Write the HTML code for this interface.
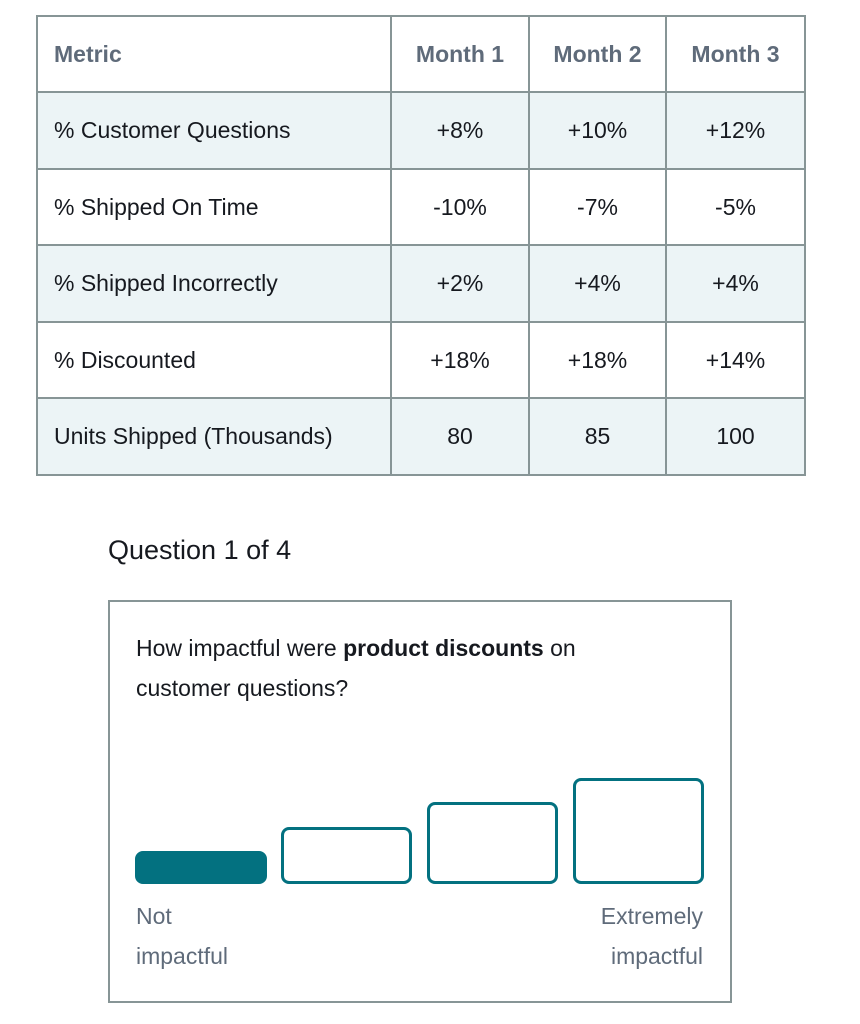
<!DOCTYPE html>
<html><head><meta charset="utf-8"><style>
*{box-sizing:border-box;margin:0;padding:0}
body{width:860px;height:1024px;background:#fff;font-family:"Liberation Sans",sans-serif;position:relative;overflow:hidden}
.c{position:absolute;border:2px solid #879596;display:flex;align-items:center;font-size:23px;color:#16191f}
.h{color:#5f6b7a;font-weight:bold}
.sh{background:#ecf4f6}
.btn{position:absolute;border:3px solid #037180;border-radius:8px;background:#fff}
.lab{position:absolute;font-size:23px;color:#5f6b7a}
</style></head><body>
<div id="tbl"></div>
<div style="position:absolute;left:108px;top:535px;font-size:27px;color:#16191f">Question 1 of 4</div>
<div style="position:absolute;left:108px;top:600px;width:624px;height:403px;border:2px solid #879596"></div>
<div style="position:absolute;left:136px;top:628px;width:520px;font-size:23px;line-height:40px;color:#16191f">How impactful were <b>product discounts</b> on customer questions?</div>
<div class="btn" style="left:135px;top:851px;width:132px;height:33px;background:#037180"></div>
<div class="btn" style="left:281px;top:827px;width:131px;height:57px"></div>
<div class="btn" style="left:427px;top:802px;width:131px;height:82px"></div>
<div class="btn" style="left:573px;top:778px;width:131px;height:106px"></div>
<div class="lab" style="left:136px;top:896px;line-height:40px">Not<br>impactful</div>
<div class="lab" style="right:157px;top:896px;line-height:40px;text-align:right">Extremely<br>impactful</div>
<script>
const headers=["Metric","Month 1","Month 2","Month 3"];
const metrics=["% Customer Questions","% Shipped On Time","% Shipped Incorrectly","% Discounted","Units Shipped (Thousands)"];
const m1=["+8%","-10%","+2%","+18%","80"];
const m2=["+10%","-7%","+4%","+18%","85"];
const m3=["+12%","-5%","+4%","+14%","100"];
const xs=[36,390,528,665,804], ys=[15,91,168,244,321,397,474];
const t=document.getElementById('tbl');
const rows=[headers];
for(let i=0;i<metrics.length;i++)rows.push([metrics[i],m1[i],m2[i],m3[i]]);
rows.forEach((r,ri)=>r.forEach((v,ci)=>{
 const d=document.createElement('div');
 d.className='c'+(ri==0?' h':'')+(ri%2==1?' sh':'');
 
 
 d.style.left=xs[ci]+'px';d.style.top=ys[ri]+'px';
 d.style.width=(xs[ci+1]-xs[ci]+2)+'px';d.style.height=(ys[ri+1]-ys[ri]+2)+'px';
 d.style.justifyContent=ci==0?'flex-start':'center';
 if(ci==0)d.style.paddingLeft='16px';
 d.textContent=v;t.appendChild(d);
}));
</script>
</body></html>
